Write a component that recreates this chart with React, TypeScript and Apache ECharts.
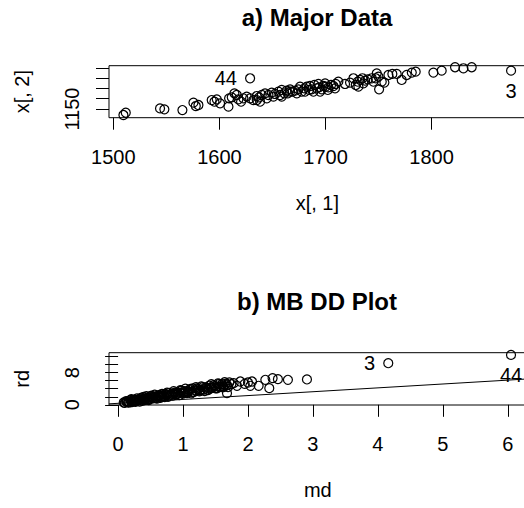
import React, { useEffect, useRef } from "react";
import * as echarts from "echarts";

// ---- a) Major Data ----
const majorX = [
  1511.7, 1509.5, 1544.0, 1548.1, 1565.1, 1575.5, 1577.7, 1580.2, 1592.7, 1595.3,
  1597.5, 1600.6, 1608.5, 1609.1, 1611.6, 1614.1, 1616.3, 1617.9, 1620.4, 1622.6,
  1625.7, 1628.9, 1628.9, 1632.0, 1635.2, 1637.4, 1639.9, 1643.0, 1646.2, 1649.3,
  1652.4, 1655.6, 1658.7, 1661.2, 1663.4, 1666.6, 1668.8, 1671.3, 1674.4, 1677.6,
  1680.1, 1682.3, 1684.5, 1687.0, 1689.5, 1691.7, 1693.9, 1696.4, 1698.0, 1700.2,
  1702.7, 1705.2, 1707.4, 1709.6, 1712.1, 1718.4, 1723.1, 1726.3, 1728.5, 1730.4,
  1732.6, 1734.8, 1737.3, 1739.8, 1743.6, 1748.3, 1749.9, 1750.5, 1753.0, 1755.5,
  1759.3, 1763.0, 1767.1, 1771.8, 1776.5, 1781.3, 1785.0, 1801.7, 1809.5, 1822.1,
  1830.0, 1837.8, 1874.9,
  1638.3, 1644.6, 1650.9, 1657.1, 1664.4, 1672.9, 1676.0, 1680.7, 1685.4, 1688.6,
  1693.3, 1694.9, 1699.6, 1702.1, 1709.0, 1731.0, 1735.7, 1745.1, 1747.4, 1666.6,
  1658.7, 1635.2,
];
const majorY = [
  1146.4, 1144.2, 1150.6, 1149.7, 1149.0, 1156.2, 1152.9, 1153.9, 1158.7, 1157.1,
  1159.4, 1155.5, 1152.3, 1160.4, 1161.3, 1165.2, 1163.6, 1159.4, 1157.1, 1160.4,
  1162.0, 1160.4, 1179.8, 1158.7, 1162.6, 1161.3, 1163.6, 1165.2, 1163.6, 1165.9,
  1164.6, 1166.8, 1168.5, 1165.2, 1167.8, 1169.1, 1166.8, 1167.8, 1169.1, 1166.8,
  1170.1, 1171.7, 1168.5, 1169.1, 1173.3, 1170.1, 1171.0, 1169.1, 1172.3, 1171.7,
  1171.0, 1173.3, 1172.3, 1174.3, 1176.5, 1174.3, 1175.6, 1179.8, 1173.3, 1176.5,
  1178.2, 1179.8, 1177.5, 1178.8, 1179.8, 1184.6, 1181.4, 1169.1, 1176.5, 1175.6,
  1183.0, 1184.0, 1184.0, 1178.2, 1183.0, 1185.3, 1186.2, 1185.3, 1187.2, 1190.5,
  1189.5, 1190.5, 1187.2,
  1157.1, 1160.4, 1162.0, 1163.6, 1165.2, 1165.2, 1171.7, 1166.8, 1172.3, 1166.8,
  1174.3, 1166.8, 1174.9, 1168.5, 1170.1, 1171.7, 1174.9, 1176.5, 1179.8, 1166.8,
  1162.0, 1158.7,
];
// [case label, index in arrays, label side]
const majorOutliers: [string, number, string][] = [
  ["44", 22, "left"],
  ["3", 82, "bottom"],
];
const majorXTicks = [1500, 1600, 1700, 1800];
const majorXLabels = [1500, 1600, 1700, 1800];
const majorYTicks = [1150, 1160, 1170, 1180, 1190];
const majorYLabels = [1150];
const majorXRange = [1495.9, 1888.6];
const majorYRange = [1141.6, 1192.0];

// ---- b) MB DD Plot ----
const ddMd = [
  0.087, 0.123, 0.154, 0.19, 0.215, 0.241, 0.267, 0.292, 0.318, 0.343,
  0.369, 0.395, 0.42, 0.446, 0.472, 0.497, 0.523, 0.564, 0.585, 0.615,
  0.651, 0.677, 0.702, 0.728, 0.769, 0.79, 0.82, 0.856, 0.882, 0.908,
  0.943, 0.974, 1.01, 1.036, 1.061, 1.097, 1.128, 1.149, 1.19, 1.215,
  1.251, 1.282, 1.318, 1.344, 1.385, 1.405, 1.446, 1.472, 1.508, 1.538,
  1.574, 1.6, 1.626, 1.661, 1.692,
  0.102, 0.138, 0.174, 0.205, 0.231, 0.256, 0.282, 0.308, 0.333, 0.359,
  0.385, 0.41, 0.436, 0.461, 0.487, 0.513, 0.543, 0.574, 0.6, 0.636,
  0.667, 0.687, 0.718, 0.754, 0.805, 0.841, 0.872, 0.923, 0.959, 0.995,
  1.026, 1.077, 1.113, 1.164, 1.2, 1.231, 1.267, 1.303, 1.333, 1.369,
  1.42, 1.436, 1.487, 1.523, 1.559, 1.59, 1.641, 1.677, 1.713, 1.744,
  1.677, 1.779, 1.831, 1.882, 1.949, 2.0, 2.036, 2.062, 2.164, 2.267,
  2.328, 2.379, 2.461, 2.615, 2.908, 4.16, 6.05,
  0.13, 0.16, 0.2, 0.25, 0.28, 0.33, 0.38, 0.43, 0.48, 0.53,
  0.58, 0.63, 0.68, 0.74, 0.79, 0.85, 0.9, 0.96, 1.02, 1.08,
  1.14, 1.2, 1.26, 1.32, 1.38, 1.44, 1.5, 1.56, 1.62,
];
const ddRd = [
  0.58, 0.93, 0.61, 1.2, 0.69, 1.18, 0.76, 1.57, 1.14, 1.55,
  0.96, 1.94, 1.35, 1.76, 1.16, 2.06, 1.8, 2.5, 1.65, 2.23,
  1.75, 2.73, 2.23, 2.63, 2.0, 2.96, 2.47, 3.4, 2.48, 3.05,
  2.41, 3.49, 3.09, 3.99, 2.91, 3.67, 2.84, 4.06, 3.51, 4.08,
  3.35, 4.59, 3.79, 4.35, 3.64, 4.77, 4.31, 4.88, 4.24, 5.31,
  4.59, 5.16, 4.4, 5.25, 4.43,
  0.46, 0.8, 0.58, 1.41, 0.99, 1.3, 0.96, 1.28, 0.78, 1.76,
  1.42, 1.16, 2.14, 1.55, 1.46, 2.27, 1.62, 2.11, 1.52, 2.45,
  2.05, 2.35, 1.94, 3.03, 2.6, 2.29, 3.03, 2.77, 3.61, 2.8,
  3.38, 3.36, 3.96, 3.19, 4.37, 3.87, 3.64, 4.4, 3.42, 4.26,
  4.07, 5.11, 4.59, 4.11, 5.21, 4.39, 5.6, 4.87, 5.56, 5.15,
  2.9, 5.38, 4.72, 5.79, 5.21, 5.54, 4.72, 5.79, 4.72, 6.21,
  4.14, 6.62, 6.37, 6.21, 6.3, 10.34, 12.4,
  0.75, 0.7, 0.95, 1.05, 1.0, 1.3, 1.25, 1.6, 1.5, 1.85,
  1.75, 2.1, 2.0, 2.4, 2.3, 2.7, 2.6, 2.95, 2.9, 3.25,
  3.2, 3.55, 3.5, 3.85, 3.8, 4.15, 4.1, 4.45, 4.6,
];
const ddOutliers: [string, number, string][] = [
  ["3", 120, "left"],
  ["44", 121, "bottom"],
];
const ddLineMd = [-0.14, 6.29];
const ddLineRd = [0.236, 6.41];
const ddXTicks = [0, 1, 2, 3, 4, 5, 6];
const ddXLabels = [0, 1, 2, 3, 4, 5, 6];
const ddYTicks = [0, 2, 4, 6, 8, 10, 12];
const ddYLabels = [0, 8];
const ddXRange = [-0.14, 6.29];
const ddYRange = [-0.05, 12.95];

const FONT = "'Liberation Sans', Arial, Helvetica, sans-serif";

function pointData(xs: number[], ys: number[], outliers: [string, number, string][]) {
  return xs.map((x, i) => {
    const o = outliers.find((q) => q[1] === i);
    if (!o) return [x, ys[i]];
    return {
      value: [x, ys[i]],
      label: {
        show: true,
        formatter: o[0],
        position: o[2],
        distance: o[2] === "left" ? 8 : 5,
        color: "#000",
        opacity: 1,
        fontSize: 20,
        fontFamily: FONT,
      },
    };
  });
}

const plain = (v: number) => String(v);

function xAxisOf(gridIndex: number, range: number[], ticks: number[], labels: number[], name: string) {
  return {
    type: "value",
    gridIndex,
    min: range[0],
    max: range[1],
    name,
    nameLocation: "middle",
    nameGap: 75,
    nameTextStyle: { color: "#000", fontSize: 20, fontFamily: FONT },
    axisLine: { show: false },
    axisTick: {
      show: true,
      inside: false,
      length: 12,
      customValues: ticks,
      lineStyle: { color: "#000", width: 1 },
    },
    axisLabel: {
      show: true,
      customValues: labels,
      formatter: plain,
      margin: 29,
      color: "#000",
      fontSize: 20,
      fontFamily: FONT,
    },
    splitLine: { show: false },
  };
}

function yAxisOf(gridIndex: number, range: number[], ticks: number[], labels: number[], name: string) {
  return {
    type: "value",
    gridIndex,
    min: range[0],
    max: range[1],
    name,
    nameLocation: "middle",
    nameRotate: 90,
    nameGap: 77,
    nameTextStyle: { color: "#000", fontSize: 20, fontFamily: FONT },
    axisLine: { show: false },
    axisTick: {
      show: true,
      inside: false,
      length: 13,
      customValues: ticks,
      lineStyle: { color: "#000", width: 1 },
    },
    axisLabel: {
      show: true,
      customValues: labels,
      formatter: plain,
      rotate: 90,
      margin: 27,
      color: "#000",
      fontSize: 20,
      fontFamily: FONT,
    },
    splitLine: { show: false },
  };
}

export default function App() {
  const ref = useRef<HTMLDivElement>(null);
  useEffect(() => {
    if (!ref.current) return;
    const chart = echarts.init(ref.current, null, { renderer: "svg" });
    const symbolStyle = { color: "rgba(0,0,0,0)", borderColor: "#000", borderWidth: 1.2, opacity: 1 };
    chart.setOption({
      animation: false,
      backgroundColor: "#fff",
      textStyle: { fontFamily: FONT },
      grid: [
        { left: 109, top: 65.7, width: 416.6, height: 52, show: true, borderColor: "#000", borderWidth: 1, backgroundColor: "transparent", outerBoundsMode: "none" },
        { left: 109, top: 352.7, width: 417.6, height: 52.3, show: true, borderColor: "#000", borderWidth: 1, backgroundColor: "transparent", outerBoundsMode: "none" },
      ],
      xAxis: [
        xAxisOf(0, majorXRange, majorXTicks, majorXLabels, "x[, 1]"),
        xAxisOf(1, ddXRange, ddXTicks, ddXLabels, "md"),
      ],
      yAxis: [
        yAxisOf(0, majorYRange, majorYTicks, majorYLabels, "x[, 2]"),
        yAxisOf(1, ddYRange, ddYTicks, ddYLabels, "rd"),
      ],
      graphic: [
        {
          type: "text",
          x: 317,
          y: 17,
          style: {
            text: "a) Major Data",
            fill: "#000",
            fontSize: 24,
            fontWeight: "bold",
            fontFamily: FONT,
            align: "center",
            verticalAlign: "middle",
            textAlign: "center",
            textVerticalAlign: "middle",
          },
        },
        {
          type: "text",
          x: 317,
          y: 301.5,
          style: {
            text: "b) MB DD Plot",
            fill: "#000",
            fontSize: 24,
            fontWeight: "bold",
            fontFamily: FONT,
            align: "center",
            verticalAlign: "middle",
            textAlign: "center",
            textVerticalAlign: "middle",
          },
        },
      ],
      series: [
        {
          type: "scatter",
          xAxisIndex: 0,
          yAxisIndex: 0,
          symbol: "circle",
          symbolSize: 9,
          itemStyle: symbolStyle,
          emphasis: { disabled: true },
          data: pointData(majorX, majorY, majorOutliers),
        },
        {
          type: "scatter",
          xAxisIndex: 1,
          yAxisIndex: 1,
          symbol: "circle",
          symbolSize: 9,
          itemStyle: symbolStyle,
          emphasis: { disabled: true },
          data: pointData(ddMd, ddRd, ddOutliers),
        },
        {
          type: "line",
          xAxisIndex: 1,
          yAxisIndex: 1,
          symbol: "none",
          clip: true,
          lineStyle: { color: "#000", width: 1 },
          data: ddLineMd.map((m, i) => [m, ddLineRd[i]]),
        },
      ],
    });
    return () => chart.dispose();
  }, []);
  return (
    <div style={{ position: "fixed", left: 0, top: 0, width: 524, height: 508, overflow: "hidden", background: "#fff" }}>
      <div ref={ref} style={{ width: 540, height: 508 }} />
    </div>
  );
}
